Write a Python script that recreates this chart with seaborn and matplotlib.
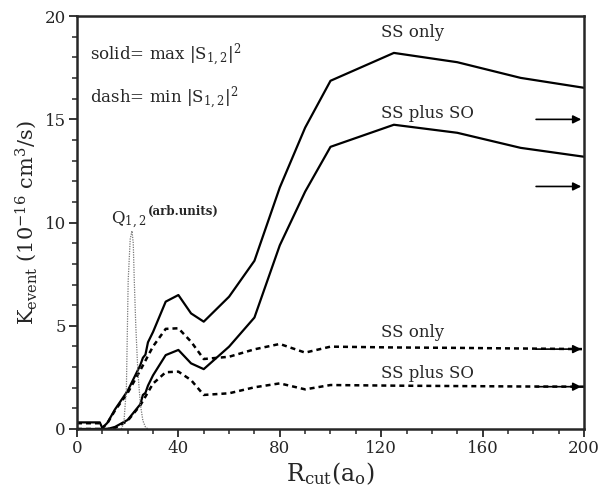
import numpy as np
import pandas as pd
import matplotlib
matplotlib.use("Agg")
import matplotlib.pyplot as plt
import seaborn as sns
from matplotlib.ticker import MultipleLocator


# K_event vs R_cut
r_solid = [0, 9, 10, 12, 15, 20, 25, 26, 27, 28, 30, 35, 40, 45, 50, 60, 70, 80, 90, 100, 125, 150, 175, 200]
ss_only_max = [0.32, 0.32, 0.05, 0.3, 0.95, 1.85, 3.1, 3.45, 3.6, 4.2, 4.7, 6.17, 6.49, 5.6, 5.2,
               6.41, 8.15, 11.7, 14.6, 16.87, 18.22, 17.77, 17.01, 16.53]
ss_so_max = [0.0, 0.0, 0.0, 0.0, 0.1, 0.44, 1.2, 1.65, 1.75, 2.1, 2.6, 3.58, 3.83, 3.18, 2.9,
             3.99, 5.4, 8.9, 11.5, 13.67, 14.74, 14.35, 13.62, 13.19]

r_dash = [0, 9, 10, 12, 15, 20, 25, 30, 35, 40, 45, 50, 60, 70, 80, 90, 100, 125, 150, 175, 200]
ss_only_min = [0.28, 0.28, 0.05, 0.28, 0.9, 1.75, 2.85, 4.0, 4.85, 4.88, 4.23, 3.39, 3.5, 3.86,
               4.12, 3.7, 3.99, 3.95, 3.93, 3.9, 3.87]
ss_so_min = [0.0, 0.0, 0.0, 0.0, 0.05, 0.4, 1.15, 2.2, 2.75, 2.78, 2.37, 1.65, 1.73, 2.02,
             2.21, 1.92, 2.13, 2.1, 2.08, 2.06, 2.05]

# Q_{1,2} profile (arb. units)
r_q = [17.5, 18.5, 19.5, 20.2, 21.0, 21.7, 22.2, 22.6, 23.2, 24.0, 25.0, 26.0, 27.0, 28.0]
q_12 = [0.0, 0.3, 2.0, 7.2, 9.2, 9.6, 9.0, 7.2, 5.0, 2.8, 1.2, 0.4, 0.1, 0.0]

# asymptotic values marked by arrows on the right
arrow_levels_max = [15.0, 11.75]

sns.set_theme(style="ticks")
plt.rcParams['font.family'] = ['DejaVu Serif']
plt.rcParams['mathtext.fontset'] = 'dejavuserif'

fig = plt.figure(figsize=(5.99, 4.90), dpi=100)
ax = fig.add_axes([0.1285, 0.1245, 0.8465, 0.8425])

dash = (0, (2.0, 1.6))
for y in [ss_only_max, ss_so_max]:
    sns.lineplot(x=r_solid, y=y, ax=ax, color="black", lw=1.6)
for y in [ss_only_min, ss_so_min]:
    sns.lineplot(x=r_dash, y=y, ax=ax, color="black", lw=1.8, linestyle=dash)
sns.lineplot(x=r_q, y=q_12, ax=ax, color="#777777", lw=0.9, linestyle=(0, (1, 1)))

arrow_kw = dict(arrowstyle="-|>", color="black", lw=1.2, mutation_scale=12)
for lvl in arrow_levels_max + [ss_only_min[-1], ss_so_min[-1]]:
    ax.annotate("", xy=(200, lvl), xytext=(180, lvl), arrowprops=arrow_kw)

ax.set_xlim(0, 200)
ax.set_ylim(0, 20)
ax.xaxis.set_major_locator(MultipleLocator(40))
ax.xaxis.set_minor_locator(MultipleLocator(10))
ax.yaxis.set_major_locator(MultipleLocator(5))
ax.yaxis.set_minor_locator(MultipleLocator(1))
ax.tick_params(which="major", direction="out", length=6, width=1.3, labelsize=12, pad=2)
ax.tick_params(which="minor", direction="out", length=3.5, width=1.1)
for s in ax.spines.values():
    s.set_linewidth(1.8)

ax.set_xlabel(r"R$_{\mathrm{cut}}$(a$_{\mathrm{o}}$)", fontsize=17, labelpad=2)
ax.set_ylabel(r"K$_{\mathrm{event}}$ (10$^{-16}$ cm$^{3}$/s)", fontsize=15, labelpad=4)

ax.text(5, 17.9, r"solid= max |S$_{1,2}$|$^{2}$", fontsize=12)
ax.text(5, 15.8, r"dash= min |S$_{1,2}$|$^{2}$", fontsize=12)
ax.text(120, 19.0, "SS only", fontsize=12)
ax.text(120, 15.05, "SS plus SO", fontsize=12)
ax.text(120, 4.45, "SS only", fontsize=12)
ax.text(120, 2.45, "SS plus SO", fontsize=12)
ax.text(13.5, 9.95, r"Q$_{1,2}$", fontsize=12)
ax.text(28.0, 10.35, "(arb.units)", fontsize=8.5, fontweight="bold")

fig.savefig("out.png", dpi=100)
